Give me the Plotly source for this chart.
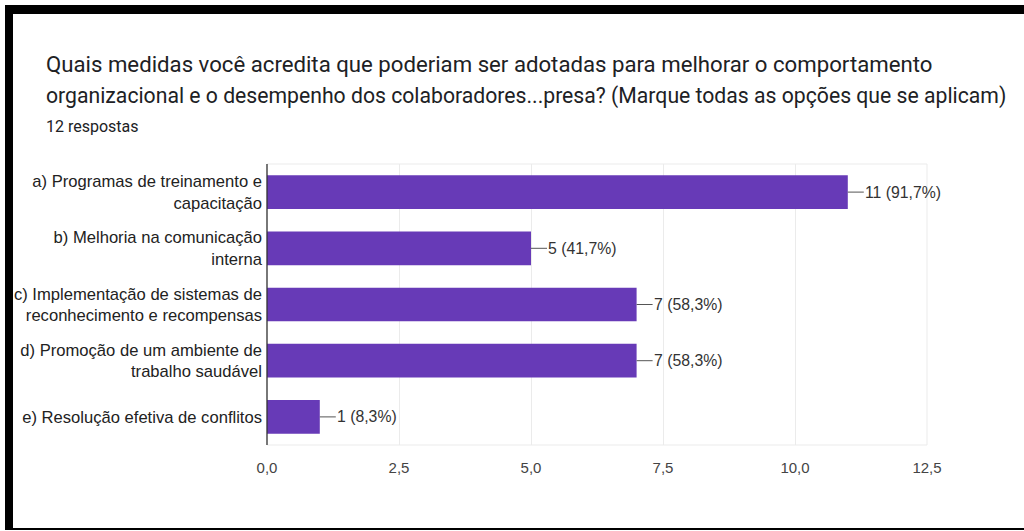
import plotly.graph_objects as go

categories = [
    "a) Programas de treinamento e<br>capacitação",
    "b) Melhoria na comunicação<br>interna",
    "c) Implementação de sistemas de<br>reconhecimento e recompensas",
    "d) Promoção de um ambiente de<br>trabalho saudável",
    "e) Resolução efetiva de conflitos",
]
counts = [11, 5, 7, 7, 1]
percent_labels = ["91,7%", "41,7%", "58,3%", "58,3%", "8,3%"]
x_ticks = [0, 2.5, 5, 7.5, 10, 12.5]

title_line1 = "Quais medidas você acredita que poderiam ser adotadas para melhorar o comportamento"
title_line2 = "organizacional e o desempenho dos colaboradores...presa? (Marque todas as opções que se aplicam)"
subtitle = "12 respostas"

W, H = 1024, 531
L, R, T, B = 267, 927, 164, 445

CHART_FONT = "Liberation Sans, Arial, sans-serif"
TITLE_FONT = "Roboto, sans-serif"


def px2x(px):
    return (px - L) / (R - L)


def py2y(py):
    return (B - py) / (B - T)


fig = go.Figure(
    go.Bar(
        x=counts,
        y=categories,
        orientation="h",
        marker=dict(color="#673ab7", line=dict(width=0)),
        width=0.6,
        hoverinfo="skip",
    )
)

shapes = []
annotations = []
for cat, v, p in zip(categories, counts, percent_labels):
    shapes.append(dict(
        type="line", xref="x", yref="y", xsizemode="pixel", xanchor=v,
        x0=0, x1=16, y0=cat, y1=cat,
        line=dict(color="#555555", width=1),
    ))
    annotations.append(dict(
        x=v, y=cat, xref="x", yref="y", xanchor="left", yanchor="middle",
        xshift=15, showarrow=False, text=f"{v} ({p})",
        font=dict(family=CHART_FONT, size=15.8, color="#333333"),
    ))

# plot frame (light)
shapes.append(dict(type="rect", xref="paper", yref="paper", x0=0, x1=1, y0=0, y1=1,
                   line=dict(color="#ebebeb", width=1), layer="below"))
# left axis line (dark)
shapes.append(dict(type="line", xref="paper", yref="paper", x0=0, x1=0, y0=0, y1=1,
                   line=dict(color="#333333", width=1.3)))

# black screenshot border
for (x0, x1, y0, y1) in [(5, 1024, 5, 14), (5, 13, 5, 530), (5, 1024, 528, 530)]:
    shapes.append(dict(type="rect", xref="paper", yref="paper",
                       x0=px2x(x0), x1=px2x(x1), y0=py2y(y1), y1=py2y(y0),
                       fillcolor="black", line=dict(width=0)))

annotations += [
    dict(x=px2x(44), y=py2y(64), xref="paper", yref="paper", xanchor="left", yanchor="middle",
         showarrow=False, text=title_line1, font=dict(family=TITLE_FONT, size=22.2, color="#202124")),
    dict(x=px2x(44), y=py2y(96), xref="paper", yref="paper", xanchor="left", yanchor="middle",
         showarrow=False, text=title_line2, font=dict(family=TITLE_FONT, size=21.2, color="#202124")),
    dict(x=px2x(44), y=py2y(126), xref="paper", yref="paper", xanchor="left", yanchor="middle",
         showarrow=False, text=subtitle, font=dict(family=TITLE_FONT, size=16, color="#202124")),
]

fig.update_layout(
    width=W, height=H,
    margin=dict(l=L, r=W - R, t=T, b=H - B, pad=0),
    paper_bgcolor="white", plot_bgcolor="white",
    separators=",.",
    showlegend=False,
    bargap=0.4,
    shapes=shapes,
    annotations=annotations,
    xaxis=dict(
        range=[0, 12.5], tickvals=x_ticks, tickformat=".1f",
        showgrid=True, gridcolor="#ebebeb", gridwidth=1,
        zeroline=False, showline=False, ticks="",
        tickfont=dict(family=CHART_FONT, size=15, color="#444444"),
        ticklabelstandoff=12,
        fixedrange=True,
    ),
    yaxis=dict(
        autorange="reversed", showgrid=False, zeroline=False, showline=False, ticks="",
        tickfont=dict(family=CHART_FONT, size=16.6, color="#222222"),
        ticklabelstandoff=4,
        fixedrange=True,
    ),
)

fig.write_html(
    "out.html",
    config={"displayModeBar": False},
    post_script="document.body.style.margin='0';document.body.style.padding='0';",
)
